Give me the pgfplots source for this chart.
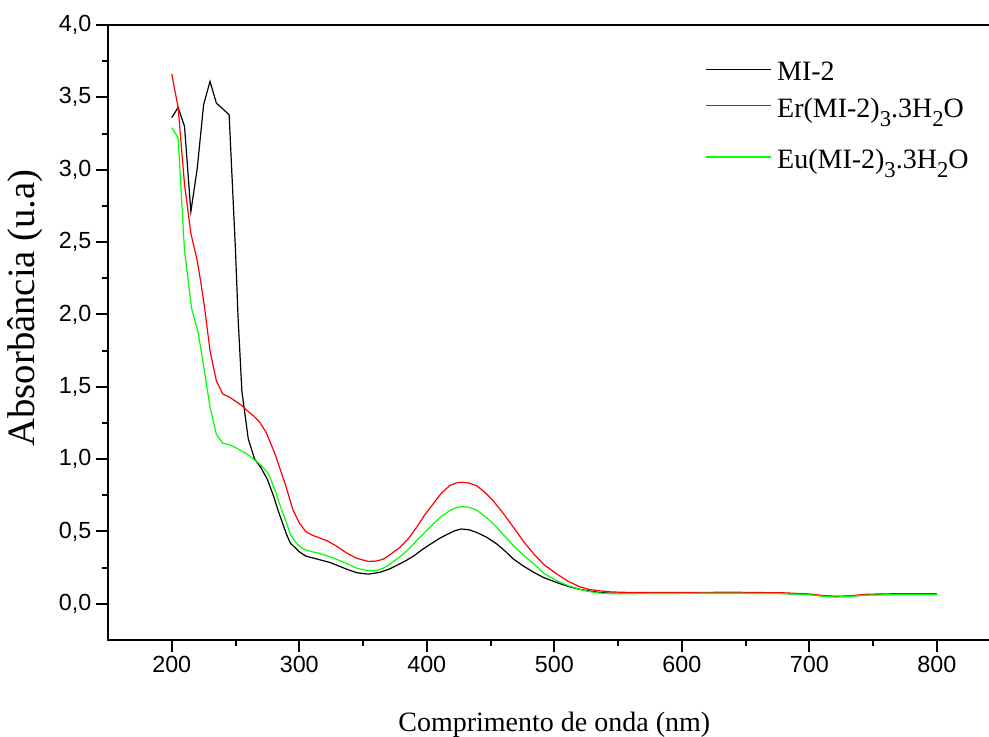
\documentclass[border=0pt]{standalone}
\usepackage{pgfplots}
\pgfplotsset{compat=1.18}
\usepackage{fontspec}
\setmainfont{Liberation Serif}
\newfontfamily\arialfont{Liberation Sans}
\definecolor{mygreen}{RGB}{0,255,0}
\definecolor{myred}{RGB}{255,0,0}
\newcommand\sub[1]{\raisebox{-7pt}{\fontsize{17}{20}\selectfont #1}}
\pgfplotsset{
  legaxis/.style={
    scale only axis, width=669.4pt, height=461.25pt, hide axis,
    xmin=0, xmax=1, ymin=0, ymax=1,
    legend style={at={(axis description cs:0.669,#1)}, anchor=north west, draw=none, fill=none,
      font=\fontsize{21}{25}\selectfont, inner sep=0pt, column sep=2pt, cells={anchor=base west}},
    legend image code/.code={\path (0pt,0pt); \draw[##1] (0pt,8.75pt) -- (48.75pt,8.75pt);},
  }
}
\begin{document}
\begin{tikzpicture}
\begin{axis}[
  scale only axis,
  width=669.4pt, height=461.25pt,
  xmin=150, xmax=850, ymin=-0.25, ymax=4,
  xtick={200,300,...,800},
  ytick={0,0.5,...,4},
  minor x tick num=1, minor y tick num=1,
  tick pos=left, tick align=outside,
  major tick length=9pt, minor tick length=4.5pt,
  axis line style={line width=1.5pt},
  every tick/.style={line width=1.5pt, black},
  every minor tick/.style={line width=1.5pt, black},
  tick label style={font=\arialfont\fontsize{17.5}{20}\selectfont, /pgf/number format/assume math mode=true},
  yticklabel style={/pgf/number format/.cd, fixed, fixed zerofill, precision=1, use comma},
  xticklabel style={/pgf/number format/.cd, set thousands separator={}},
  xlabel={Comprimento de onda (nm)},
  ylabel={Absorbância (u.a)},
  xlabel style={font=\fontsize{21}{25}\selectfont, at={(axis description cs:0.5,-0.1496)}, anchor=base},
  ylabel style={font=\fontsize{29}{33}\selectfont, at={(axis description cs:-0.093,0.54)}, anchor=center},
  every axis plot/.append style={line width=0.9pt},
]
\addplot[black] table {
200 3.36
205 3.43
210 3.30
215 2.71
220 3.01
225 3.45
230 3.61
235 3.46
245 3.38
250 2.44
252 1.98
255 1.47
260 1.14
265 1.00
270 0.94
275 0.86
280 0.74
284 0.63
290 0.48
293 0.42
300 0.36
305 0.33
311 0.316
318 0.30
324 0.286
330 0.265
337 0.24
345 0.215
354 0.205
363 0.217
370 0.238
376 0.263
383 0.295
390 0.332
396 0.372
403 0.413
410 0.452
416 0.48
422 0.505
427 0.517
433 0.512
439 0.494
447 0.46
455 0.413
462 0.36
468 0.309
476 0.26
484 0.217
492 0.18
502 0.147
511 0.12
520 0.10
528 0.088
536 0.078
545 0.073
560 0.072
600 0.074
640 0.075
680 0.072
700 0.065
710 0.055
720 0.050
730 0.052
745 0.063
770 0.066
800 0.067
};
\addplot[myred] table {
200 3.66
205 3.43
210 2.90
215 2.56
220 2.37
223 2.21
226 2.03
230 1.75
235 1.54
240 1.45
245 1.43
250 1.40
255 1.37
259 1.336
264 1.30
269 1.255
274 1.185
281 1.036
285 0.93
289 0.828
295 0.65
300 0.56
305 0.50
310 0.475
316 0.455
322 0.435
329 0.40
337 0.352
345 0.315
354 0.293
360 0.295
366 0.309
372 0.345
379 0.39
386 0.455
392 0.528
398 0.61
405 0.69
411 0.76
418 0.817
423 0.835
427 0.84
433 0.835
439 0.817
445 0.775
452 0.713
460 0.625
468 0.528
476 0.43
484 0.344
492 0.27
502 0.206
511 0.155
520 0.118
527 0.10
535 0.09
545 0.082
560 0.078
600 0.078
640 0.080
680 0.076
700 0.068
710 0.058
720 0.052
730 0.054
745 0.066
770 0.070
800 0.070
};
\addplot[mygreen] table {
200 3.29
205 3.22
210 2.44
215.6 2.04
220.8 1.87
224.7 1.66
230 1.36
235 1.17
240 1.11
245 1.10
250 1.08
255 1.055
259 1.036
264 1.00
269 0.967
276 0.898
282 0.76
285 0.678
290 0.56
293 0.48
298 0.415
303 0.379
310 0.36
316 0.348
324 0.325
332 0.298
338 0.275
345 0.247
350 0.235
355 0.228
361 0.232
366 0.247
372 0.28
379 0.325
386 0.38
392 0.436
398 0.49
405 0.551
411 0.60
418 0.644
423 0.665
427 0.671
433 0.668
439 0.648
447 0.595
455 0.528
462 0.46
468 0.401
476 0.335
484 0.275
492 0.21
502 0.159
511 0.125
520 0.10
527 0.085
535 0.075
545 0.07
560 0.07
600 0.072
640 0.073
680 0.07
700 0.063
710 0.053
720 0.047
730 0.05
745 0.06
770 0.064
800 0.065
};
\end{axis}
\begin{axis}[legaxis=0.9463]
\addlegendimage{black, line width=1.1pt}
\addlegendentry{\raisebox{0pt}[15pt][0pt]{MI-2}}
\end{axis}
\begin{axis}[legaxis=0.887]
\addlegendimage{myred, line width=1.1pt}
\addlegendentry{\raisebox{0pt}[15pt][0pt]{Er(MI-2)\sub{3}.3H\sub{2}O}}
\end{axis}
\begin{axis}[legaxis=0.804]
\addlegendimage{mygreen, line width=1.1pt}
\addlegendentry{\raisebox{0pt}[15pt][0pt]{Eu(MI-2)\sub{3}.3H\sub{2}O}}
\end{axis}
\pgfresetboundingbox
\path[use as bounding box] (-81pt,-72.75pt) rectangle (660.75pt,480pt);
\end{tikzpicture}
\end{document}
